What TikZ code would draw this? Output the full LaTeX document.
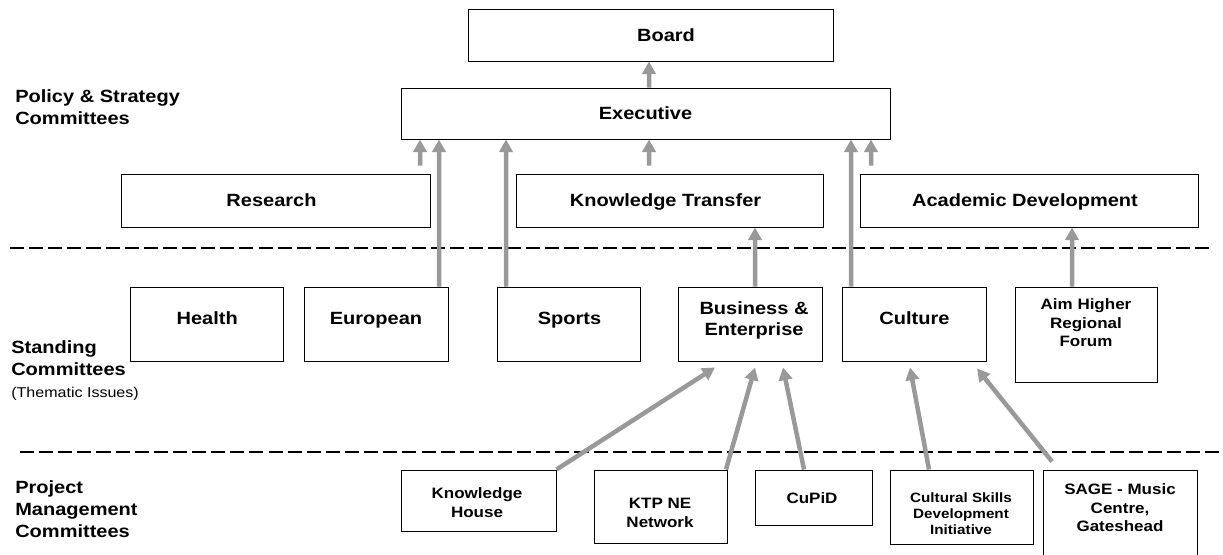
\documentclass[tikz,border=0pt]{standalone}
\usepackage{fontspec}
\setmainfont{Liberation Sans}[FakeStretch=1.13]
\usetikzlibrary{arrows.meta}

\definecolor{arrowgrey}{RGB}{153,153,153}

\tikzset{
  box/.style={draw, line width=0.7pt, inner sep=0pt},
  bigtxt/.style={font=\bfseries\fontsize{12.6}{14.9}\selectfont, align=center, inner sep=0pt},
  bigline/.style={bigtxt, text height=9pt, text depth=0pt},
  smalltxt/.style={font=\bfseries\fontsize{10.7}{13.2}\selectfont, align=center, inner sep=0pt},
  smallline/.style={smalltxt, text height=7.7pt, text depth=0pt},
  tinytxt/.style={font=\bfseries\fontsize{9.6}{11.7}\selectfont, align=center, inner sep=0pt},
  sidetxt/.style={font=\bfseries\fontsize{12.6}{15.6}\selectfont, align=left, anchor=west, inner sep=0pt},
  arrowup/.style={draw=arrowgrey, line width=3.2pt, -{Triangle[width=9.5pt,length=9pt]}},
  divider/.style={line width=1.4pt, dash pattern=on 10pt off 3.6pt},
}

\begin{document}
\begin{tikzpicture}
  \useasboundingbox (0,0) rectangle (30.575,13.85);

  % left hand labels
  \node[sidetxt] (policy) at (0.375,11.165) {Policy \& Strategy\\Committees};
  \node[sidetxt] (standing) at (0.275,4.595) {Standing\\Committees\\{\mdseries\fontsize{10.1}{14.9}\selectfont (Thematic Issues)}};
  \node[sidetxt] (project) at (0.375,1.115) {Project\\Management\\Committees};

  % top
  \node[box, minimum width=9.125cm, minimum height=1.3cm] (board) at (16.2625,12.975) {};
  \node[bigline] (boardtxt) at (16.65,12.975) {Board};
  \node[box, minimum width=12.225cm, minimum height=1.275cm] (exec) at (16.1375,11.0125) {};
  \node[bigline] (exectxt) at (exec.center) {Executive};

  % policy & strategy committees
  \node[box, minimum width=7.725cm, minimum height=1.325cm] (research) at (6.8875,8.8375) {};
  \node[bigline] (researchtxt) at ([xshift=-0.1cm]research.center) {Research};
  \node[box, minimum width=7.675cm, minimum height=1.325cm] (kt) at (16.7375,8.8375) {};
  \node[bigline] (kttxt) at ([xshift=-0.1cm]kt.center) {Knowledge Transfer};
  \node[box, minimum width=8.45cm, minimum height=1.325cm] (acad) at (25.725,8.8375) {};
  \node[bigline] (acadtxt) at ([xshift=-0.1cm]acad.center) {Academic Development};

  % standing committees
  \node[box, minimum width=3.8375cm, minimum height=1.85cm] (health) at (5.18,5.75) {};
  \node[bigline] (healthtxt) at (5.18,5.9) {Health};
  \node[box, minimum width=3.6cm, minimum height=1.85cm] (euro) at (9.4,5.75) {};
  \node[bigline] (eurotxt) at (9.4,5.9) {European};
  \node[box, minimum width=3.575cm, minimum height=1.85cm] (sports) at (14.2125,5.75) {};
  \node[bigline] (sportstxt) at (14.2375,5.9) {Sports};
  \node[box, minimum width=3.6cm, minimum height=1.85cm] (bus) at (18.75,5.75) {};
  \node[bigtxt] (bustxt) at (18.85,5.8375) {Business \&\\Enterprise};
  \node[box, minimum width=3.6cm, minimum height=1.85cm] (culture) at (22.85,5.75) {};
  \node[bigline] (culturetxt) at (22.8625,5.9) {Culture};
  \node[box, minimum width=3.5625cm, minimum height=2.375cm] (aim) at (27.156,5.4875) {};
  \node[smalltxt] (aimtxt) at (27.15,5.775) {Aim Higher\\Regional\\Forum};

  % project management committees
  \node[box, minimum width=3.875cm, minimum height=1.525cm] (kh) at (11.9625,1.3375) {};
  \node[smalltxt] (khtxt) at (11.925,1.2875) {Knowledge\\House};
  \node[box, minimum width=3.325cm, minimum height=1.825cm] (ktp) at (16.5125,1.1875) {};
  \node[smalltxt] (ktptxt) at (16.5,1.025) {KTP NE\\Network};
  \node[box, minimum width=2.925cm, minimum height=1.375cm] (cupid) at (20.3375,1.4125) {};
  \node[smallline] (cupidtxt) at (20.3,1.4) {CuPiD};
  \node[box, minimum width=3.575cm, minimum height=1.85cm] (csdi) at (24.0375,1.175) {};
  \node[tinytxt] (csditxt) at (24.025,1.0075) {Cultural Skills\\Development\\Initiative};
  \node[box, minimum width=3.85cm, minimum height=2.6cm] (sage) at (28,0.8) {};
  \node[smalltxt] (sagetxt) at (28,1.1575) {SAGE - Music\\Centre,\\Gateshead};

  % dividers
  \draw[divider] (0.25,7.65) -- (30.3,7.65);
  \draw[divider] (0.5,2.55) -- (30.525,2.55);

  % reporting lines
  \draw[arrowup] ([xshift=0.0875cm]exec.north) -- ([xshift=-0.0375cm]board.south);
  \draw[arrowup] ([xshift=3.6125cm,yshift=0.2cm]research.north) -- ([xshift=-5.6375cm]exec.south);
  \draw[arrowup] ([xshift=1.575cm]euro.north) -- ([xshift=-5.1625cm]exec.south);
  \draw[arrowup] ([xshift=-1.5625cm]sports.north) -- ([xshift=-3.4875cm]exec.south);
  \draw[arrowup] ([xshift=-0.5125cm,yshift=0.2cm]kt.north) -- ([xshift=0.0875cm]exec.south);
  \draw[arrowup] ([xshift=-1.575cm]culture.north) -- ([xshift=5.1375cm]exec.south);
  \draw[arrowup] ([xshift=-3.95cm,yshift=0.2cm]acad.north) -- ([xshift=5.6375cm]exec.south);
  \draw[arrowup] ([xshift=0.125cm]bus.north) -- ([xshift=2.1375cm]kt.south);
  \draw[arrowup] ([xshift=-0.356cm]aim.north) -- ([xshift=1.075cm]acad.south);
  \draw[arrowup] (kh.north east) -- ([xshift=-0.875cm,yshift=-0.15cm]bus.south);
  \draw[arrowup] ([xshift=1.6375cm]ktp.north) -- ([xshift=0.125cm,yshift=-0.15cm]bus.south);
  \draw[arrowup] ([xshift=-0.2375cm]cupid.north) -- ([xshift=0.825cm,yshift=-0.15cm]bus.south);
  \draw[arrowup] ([xshift=-0.8125cm]csdi.north) -- ([xshift=-0.1cm,yshift=-0.15cm]culture.south);
  \draw[arrowup] ([xshift=-1.7cm,yshift=0.2cm]sage.north) -- ([xshift=1.575cm,yshift=-0.175cm]culture.south);
\end{tikzpicture}
\end{document}
